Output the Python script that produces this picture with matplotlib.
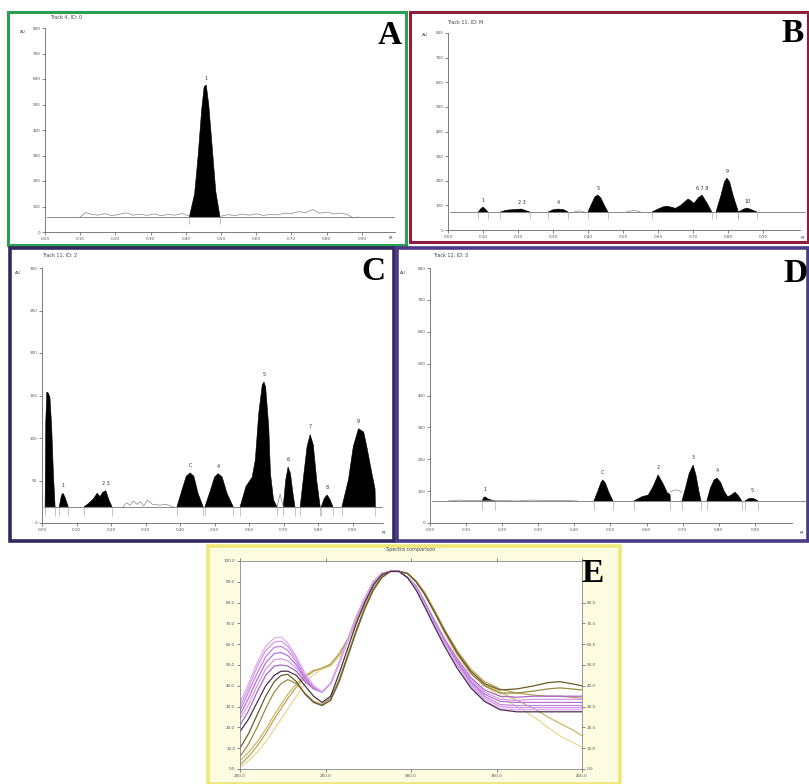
import matplotlib.pyplot as plt
from matplotlib.patches import Rectangle

# figure size in pixels, everything below is placed in pixel boxes
W, H = 809, 784

# ---------------- data ----------------
rf_ticks = [0.0, 0.1, 0.2, 0.3, 0.4, 0.5, 0.6, 0.7, 0.8, 0.9]
rf_labels = ['0.00', '0.10', '0.20', '0.30', '0.40', '0.50', '0.60', '0.70', '0.80', '0.90']

# panel A - one sharp peak
a_baseline = 59
a_peaks = [
    ([0.41, 0.425, 0.435, 0.445, 0.452, 0.458, 0.465, 0.475, 0.485, 0.497],
     [59, 150, 300, 480, 570, 576, 500, 330, 160, 59]),
]
a_names = ['1']
a_noise = [
    ([0.10, 0.115, 0.13, 0.15, 0.17, 0.19, 0.21, 0.23, 0.25, 0.27, 0.29, 0.31, 0.33, 0.35, 0.37, 0.39, 0.41],
     [59, 76, 70, 66, 72, 64, 69, 75, 66, 70, 65, 71, 64, 69, 66, 72, 62]),
    ([0.50, 0.52, 0.54, 0.56, 0.58, 0.60, 0.62, 0.64, 0.66, 0.68, 0.70, 0.72, 0.74, 0.76, 0.78, 0.80, 0.82, 0.84, 0.86, 0.875, 0.89],
     [62, 68, 64, 70, 66, 71, 65, 69, 67, 74, 72, 80, 76, 88, 74, 78, 71, 74, 68, 55, 59]),
]

# panel B - many small peaks
b_baseline = 73
b_peaks = [
    ([0.086, 0.095, 0.10, 0.106, 0.114], [73, 88, 93, 86, 73]),
    ([0.15, 0.165, 0.18, 0.195, 0.21, 0.22, 0.234], [73, 80, 82, 84, 85, 80, 73]),
    ([0.286, 0.30, 0.315, 0.33, 0.343], [73, 82, 85, 83, 73]),
    ([0.40, 0.41, 0.42, 0.428, 0.437, 0.447, 0.457], [73, 105, 135, 142, 130, 100, 73]),
    ([0.583, 0.60, 0.615, 0.626, 0.64, 0.65, 0.665, 0.686, 0.695, 0.703, 0.715, 0.726, 0.74, 0.754],
     [73, 85, 94, 97, 92, 88, 100, 126, 118, 108, 130, 142, 110, 73]),
    ([0.766, 0.78, 0.79, 0.797, 0.805, 0.815, 0.83], [73, 140, 195, 211, 195, 140, 73]),
    ([0.83, 0.845, 0.855, 0.865, 0.883], [73, 85, 89, 84, 73]),
]
b_names = ['1', '2 3', '4', '5', '6 7 8', '9', '10']
b_noise = [
    ([0.36, 0.375, 0.39], [73, 78, 73]),
    ([0.51, 0.525, 0.535, 0.55], [73, 78, 79, 73]),
]

# panel C
c_baseline = 19
c_peaks = [
    ([0.009, 0.011, 0.014, 0.018, 0.023, 0.028, 0.033, 0.038], [19, 120, 154, 153, 148, 113, 58, 19]),
    ([0.05, 0.056, 0.061, 0.067, 0.076], [19, 32, 35, 30, 19]),
    ([0.122, 0.135, 0.148, 0.16, 0.168, 0.176, 0.185, 0.194, 0.203], [19, 23, 28, 35, 31, 36, 38, 27, 19]),
    ([0.391, 0.405, 0.418, 0.429, 0.44, 0.452, 0.467], [19, 38, 55, 59, 55, 35, 19]),
    ([0.472, 0.487, 0.50, 0.51, 0.522, 0.536, 0.554], [19, 37, 54, 58, 54, 35, 19]),
    ([0.574, 0.591, 0.609, 0.618, 0.628, 0.638, 0.643, 0.648, 0.657, 0.662, 0.671, 0.681],
     [19, 43, 54, 74, 129, 162, 166, 160, 113, 58, 27, 19]),
    ([0.699, 0.706, 0.713, 0.72, 0.727, 0.733], [19, 50, 66, 58, 35, 19]),
    ([0.748, 0.758, 0.768, 0.777, 0.786, 0.796, 0.806], [19, 55, 90, 104, 92, 50, 19]),
    ([0.809, 0.818, 0.826, 0.834, 0.843], [19, 29, 33, 28, 19]),
    ([0.869, 0.888, 0.902, 0.917, 0.932, 0.941, 0.956, 0.965, 0.966], [19, 51, 90, 111, 107, 90, 58, 40, 19]),
]
c_names = ['', '1', '2 3', 'C', '4', '5', '6', '7', '8', '9']
c_noise = [
    ([0.235, 0.245, 0.255, 0.265, 0.275, 0.285, 0.295, 0.305, 0.32, 0.34, 0.36, 0.38],
     [19, 24, 21, 26, 22, 25, 20, 27, 22, 21, 22, 19]),
    ([0.681, 0.69, 0.699], [19, 34, 19]),
]

# panel D
d_baseline = 69
d_peaks = [
    ([0.144, 0.149, 0.153, 0.16, 0.17, 0.18], [69, 80, 82, 76, 72, 69]),
    ([0.454, 0.465, 0.474, 0.479, 0.486, 0.496, 0.507], [69, 100, 128, 135, 125, 95, 69]),
    ([0.565, 0.586, 0.605, 0.618, 0.632, 0.645, 0.658, 0.665, 0.666], [69, 82, 88, 114, 151, 125, 94, 90, 69]),
    ([0.698, 0.708, 0.718, 0.729, 0.737, 0.745, 0.751], [69, 110, 155, 182, 150, 100, 69]),
    ([0.767, 0.777, 0.787, 0.795, 0.805, 0.815, 0.825, 0.835, 0.845, 0.855, 0.864],
     [69, 110, 135, 141, 128, 100, 82, 88, 97, 85, 69]),
    ([0.873, 0.882, 0.892, 0.90, 0.909], [69, 76, 78, 75, 69]),
]
d_names = ['1', 'C', '2', '3', '4', '5']
d_noise = [
    ([0.05, 0.08, 0.11, 0.20, 0.24, 0.28, 0.33, 0.37, 0.41], [69, 72, 70, 71, 69, 72, 70, 71, 69]),
    ([0.665, 0.675, 0.685, 0.698], [97, 103, 104, 96]),
]

# panel E - overlaid UV spectra
wavelength = [200, 205, 210, 215, 220, 224, 228, 233, 238, 243, 248, 253, 258, 263, 268, 273, 278, 283,
              288, 293, 298, 303, 308, 314, 320, 327, 335, 343, 352, 362, 372, 380, 387, 394, 400]
spec_p1 = [32, 41, 51, 59, 63, 63.5, 60.5, 54, 46, 40, 37, 41, 51, 62, 73, 82, 90, 94,
           95, 95, 92, 87, 79, 69, 60, 50, 40, 33, 29, 28.5, 28.5, 28.5, 28.5, 28.5, 28.5]
spec_p2 = [30, 39, 49, 57, 61, 61.5, 59, 53, 45.5, 40, 37, 41, 51, 62, 73, 82, 90, 94,
           95, 95, 92, 87, 79, 69, 60, 50, 40.5, 34, 30, 29.5, 29.5, 29.5, 29.5, 29.5, 29.5]
spec_p3 = [28, 37, 46, 54, 58.5, 59, 57, 51.5, 44.5, 39.5, 37, 41, 51, 62, 73, 82, 90, 94,
           95, 95, 92, 87, 79.5, 69.5, 60.5, 51, 41.5, 35, 31, 30.5, 30.5, 30.5, 30.5, 30.5, 30.5]
spec_p4 = [26, 34, 43, 51, 55.5, 56, 54.5, 50, 43.5, 39, 37, 41, 51, 62, 73, 82, 90, 94,
           95, 95, 92, 87.5, 80, 70, 61, 51.5, 42, 36, 32.5, 32, 32, 32, 32, 32, 32]
spec_p5 = [24, 31, 40, 48, 52.5, 53, 52, 48.5, 43, 38.5, 37, 41, 51, 62, 73, 82, 90, 94,
           95, 95, 92, 87.5, 80, 70.5, 61.5, 52, 43, 37, 33.5, 33, 33.5, 33.5, 33.5, 33.5, 33.5]
spec_p6 = [21, 28, 37, 45, 49.5, 50, 49.5, 47, 42, 38.5, 37, 41, 51, 62, 73, 82, 90, 94,
           95, 95, 92, 88, 80.5, 71, 62, 53, 44, 38, 35, 34.5, 35, 35, 35, 35, 35]
spec_p7 = [18, 24, 32, 40, 45, 47, 47, 45, 40, 35, 32, 35, 46, 58, 70, 80, 88.5, 93.5,
           95, 95, 92, 86, 78, 68, 58.5, 48.5, 39, 32.5, 28.5, 27.5, 27.5, 27.5, 27.5, 27.5, 27.5]
spec_o1 = [10, 17, 26, 35, 42, 45, 45.5, 42, 36, 32, 30.5, 33, 42, 54, 66, 77, 86, 92,
           95, 95, 94, 90, 84, 75, 66, 56, 47, 41, 38, 38.5, 40, 41.5, 42, 41, 40]
spec_o2 = [6, 12, 20, 29, 37, 41, 43, 41, 36.5, 32.5, 31, 34, 43, 55, 67, 78, 87, 92.5,
           95, 95, 94, 90, 84, 75, 65.5, 55.5, 46, 40, 36.5, 36.5, 37.5, 38.5, 39, 38.5, 38]
spec_y1 = [4, 8, 13, 19, 26, 31, 36, 41, 45, 47.5, 48.5, 50, 55, 62, 72, 81, 89, 93.5,
           95, 95, 94, 90, 84, 75, 65, 55, 46, 40.5, 37, 33, 29, 25, 22, 19, 16]
spec_y2 = [1, 4, 8, 13, 19, 24, 29, 35, 41, 45.5, 48, 49.5, 54, 61, 71, 80, 88.5, 93,
           95, 95, 94, 90, 84, 75, 65, 55, 46, 40, 35, 30, 25, 20, 16, 13, 10.5]
spec_y3 = [2, 6, 11, 17, 24, 29, 34, 39.5, 44, 47, 48.5, 50.5, 55.5, 62.5, 72, 81, 89, 93.5,
           95, 95, 94, 90.5, 85, 76, 66.5, 57, 48, 42, 38.5, 36.5, 35.5, 35, 35, 34.5, 34]
spectra = [spec_y2, spec_y1, spec_y3, spec_o2, spec_o1,
           spec_p6, spec_p5, spec_p4, spec_p3, spec_p2, spec_p1, spec_p7]
spec_colors = ['#e6d894', '#cdb862', '#b9a35a', '#9a8a40', '#6b5a25',
               '#a864c8', '#d49ae6', '#b474d6', '#c484e2', '#d596ea', '#e0aaf2', '#4a3050']
e_yticks = [0, 10, 20, 30, 40, 50, 60, 70, 80, 90, 100]
e_xticks = [200, 250, 300, 350, 400]


fig = plt.figure(figsize=(W / 100, H / 100), dpi=100)


def px_axes(left, top, right, bottom):
    return fig.add_axes([left / W, 1 - bottom / H, (right - left) / W, (bottom - top) / H])


def px_frame(left, top, right, bottom, color, lw=2.2, face=None, z=5):
    fig.add_artist(Rectangle((left / W, 1 - bottom / H), (right - left) / W, (bottom - top) / H,
                             transform=fig.transFigure, fill=face is not None,
                             facecolor=face, edgecolor=color, linewidth=lw, zorder=z))


def px_text(x, y, s, **kw):
    fig.text(x / W, 1 - y / H, s, **kw)


def chromatogram(box, xmax, ymax, ystep, baseline, peaks, names, noise, base_end):
    ax = px_axes(*box)
    ax.set_xlim(0, xmax)
    ax.set_ylim(0, ymax)
    ax.plot([0.005, base_end], [baseline, baseline], color='#777777', lw=0.6, clip_on=False)
    for rf, au in noise:
        ax.plot(rf, au, color='#888888', lw=0.5)
    for (rf, au), name in zip(peaks, names):
        ax.fill(rf, au, color='black', lw=0.4)
        ax.vlines([rf[0], rf[-1]], baseline - ymax * 0.035, baseline, color='#999999', lw=0.4)
        top = au.index(max(au))
        ax.text(rf[top], au[top] + ymax * 0.02, name, fontsize=3.5, ha='center', va='bottom', color='#333333')
    ax.set_xticks(rf_ticks)
    ax.set_xticklabels(rf_labels)
    ax.set_yticks(range(0, ymax + 1, ystep))
    for side in ['top', 'right']:
        ax.spines[side].set_visible(False)
    for side in ['left', 'bottom']:
        ax.spines[side].set_color('#666666')
        ax.spines[side].set_linewidth(0.6)
    ax.tick_params(labelsize=3, length=2, width=0.5, pad=1.5, colors='#555555')
    return ax


# panel frames
px_frame(8, 12, 406, 245, '#2e9e55')
px_frame(410, 12, 808, 242, '#8e1e3c')
px_frame(10, 248, 394, 541, '#33285e', lw=2.6)
px_frame(397, 248, 808, 541, '#4b3a84', lw=2.6)
px_frame(208, 546, 620, 784, '#eee77a', lw=2.6, face='#fdfbe0', z=-1)

# chromatograms
chromatogram((45, 28, 395, 232), 0.994, 800, 100, a_baseline, a_peaks, a_names, a_noise, 0.99)
chromatogram((448, 33, 800, 230), 1.006, 800, 100, b_baseline, b_peaks, b_names, b_noise, 1.02)
chromatogram((42, 268, 383, 523), 0.988, 300, 50, c_baseline, c_peaks, c_names, c_noise, 0.985)
chromatogram((430, 268, 792, 523), 1.003, 800, 100, d_baseline, d_peaks, d_names, d_noise, 1.04)

# small headers, units
for x, y, s in [(50, 17, 'Track 4, ID: 0'), (447, 22, 'Track 11, ID: M'),
                (42, 255, 'Track 11, ID: 2'), (433, 255, 'Track 12, ID: 3')]:
    px_text(x, y, s, fontsize=3.5, color='#444444', va='center')
for x, y in [(20, 32), (422, 35), (15, 273), (400, 273)]:
    px_text(x, y, 'AU', fontsize=3, color='#444444', va='center')
for x, y in [(391, 238), (803, 238), (384, 533), (802, 533)]:
    px_text(x, y, 'Rf', fontsize=3, color='#444444', va='center', ha='center')

# spectra overlay
ax = px_axes(240, 561, 582, 769)
for values, color in zip(spectra, spec_colors):
    ax.plot(wavelength, values, color=color, lw=0.9)
ax.set_xlim(200, 400)
ax.set_ylim(0, 100)
ax.set_xticks(e_xticks)
ax.set_xticklabels(['%.1f' % v for v in e_xticks])
ax.set_yticks(e_yticks)
ax.set_yticklabels(['%.1f' % v for v in e_yticks])
for side in ax.spines:
    ax.spines[side].set_color('#888888')
    ax.spines[side].set_linewidth(0.6)
ax.tick_params(labelsize=3, length=2, width=0.5, pad=1.5, colors='#555555', top=True)
ax_r = ax.twinx()
ax_r.set_ylim(0, 100)
ax_r.set_yticks(e_yticks[:-2])
ax_r.set_yticklabels(['%.1f' % v for v in e_yticks[:-2]])
ax_r.tick_params(labelsize=3, length=2, width=0.5, pad=1.5, colors='#555555')
for side in ax_r.spines:
    ax_r.spines[side].set_visible(False)
px_text(411, 550, 'Spectra comparison', fontsize=3.5, color='#444444', ha='center', va='center')

# panel letters
for x, y, s in [(390, 36, 'A'), (793, 34, 'B'), (373, 272, 'C'), (795, 273, 'D'), (593, 573, 'E')]:
    px_text(x, y, s, fontsize=24, fontweight='bold', family='Liberation Serif',
            ha='center', va='center', zorder=10)

fig.savefig('out.png', dpi=100)
